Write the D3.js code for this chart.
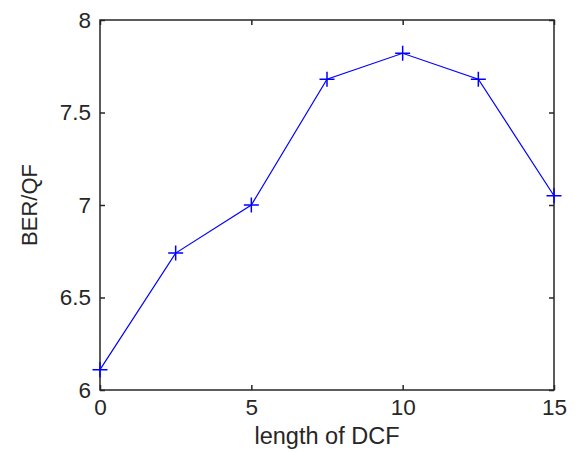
<!DOCTYPE html>
<html>
<head>
<meta charset="utf-8">
<script src="https://cdn.jsdelivr.net/npm/d3@7"></script>
<style>
  html, body { margin: 0; padding: 0; background: #fff; }
  svg { display: block; }
  text { font-family: "Liberation Sans", Arial, sans-serif; fill: #262626; }
</style>
</head>
<body>
<svg id="chart" width="579" height="452"></svg>
<script>
const xValues = [0, 2.5, 5, 7.5, 10, 12.5, 15];
const yValues = [6.11, 6.74, 7.0, 7.68, 7.82, 7.68, 7.05];
const xTicks = [0, 5, 10, 15];
const yTicks = [6, 6.5, 7, 7.5, 8];
const xLabel = "length of DCF";
const yLabel = "BER/QF";

const W = 579, H = 452;
const m = { left: 100, right: 25, top: 20, bottom: 62 };
const svg = d3.select("#chart");

const x = d3.scaleLinear().domain([0, 15]).range([m.left, W - m.right]);
const y = d3.scaleLinear().domain([6, 8]).range([H - m.bottom, m.top]);

const axisColor = "#262626";
const fs = 22.5;

// box
svg.append("rect")
  .attr("x", x(0)).attr("y", y(8))
  .attr("width", x(15) - x(0)).attr("height", y(6) - y(8))
  .attr("fill", "none").attr("stroke", axisColor).attr("stroke-width", 1.5);

// bottom axis
const gx = svg.append("g").attr("transform", `translate(0,${y(6)})`)
  .call(d3.axisBottom(x).tickValues(xTicks).tickSize(-5).tickPadding(9).tickFormat(d3.format("")));
gx.select(".domain").remove();
gx.selectAll("line").attr("stroke", axisColor).attr("stroke-width", 1.5);
gx.selectAll("text").style("font-size", fs + "px").attr("fill", axisColor)
  .attr("font-family", "Liberation Sans, Arial, sans-serif");

// top ticks
const gxt = svg.append("g").attr("transform", `translate(0,${y(8)})`)
  .call(d3.axisTop(x).tickValues(xTicks).tickSize(-5).tickFormat(""));
gxt.select(".domain").remove();
gxt.selectAll("line").attr("stroke", axisColor).attr("stroke-width", 1.5);

// left axis
const gy = svg.append("g").attr("transform", `translate(${x(0)},0)`)
  .call(d3.axisLeft(y).tickValues(yTicks).tickSize(-5).tickPadding(9).tickFormat(d3.format("")));
gy.select(".domain").remove();
gy.selectAll("line").attr("stroke", axisColor).attr("stroke-width", 1.5);
gy.selectAll("text").style("font-size", fs + "px").attr("fill", axisColor)
  .attr("font-family", "Liberation Sans, Arial, sans-serif");

// right ticks
const gyr = svg.append("g").attr("transform", `translate(${x(15)},0)`)
  .call(d3.axisRight(y).tickValues(yTicks).tickSize(-5).tickFormat(""));
gyr.select(".domain").remove();
gyr.selectAll("line").attr("stroke", axisColor).attr("stroke-width", 1.5);

// line
const pts = xValues.map((v, i) => [v, yValues[i]]);
svg.append("path")
  .datum(pts)
  .attr("fill", "none").attr("stroke", "#0000ff").attr("stroke-width", 1.2)
  .attr("d", d3.line().x(d => x(d[0])).y(d => y(d[1])));

// plus markers
const s = 7.5;
const mk = svg.append("g");
pts.forEach(d => {
  const cx = x(d[0]), cy = y(d[1]);
  mk.append("path")
    .attr("d", `M${cx - s},${cy}H${cx + s}M${cx},${cy - s}V${cy + s}`)
    .attr("stroke", "#0000ff").attr("stroke-width", 1.5).attr("fill", "none");
});

// labels
svg.append("text")
  .attr("x", (x(0) + x(15)) / 2).attr("y", 444)
  .attr("text-anchor", "middle").style("font-size", "23.5px")
  .text(xLabel);
svg.append("text")
  .attr("transform", `translate(37,${(y(6) + y(8)) / 2}) rotate(-90)`)
  .attr("text-anchor", "middle").style("font-size", "22px")
  .text(yLabel);
</script>
</body>
</html>
